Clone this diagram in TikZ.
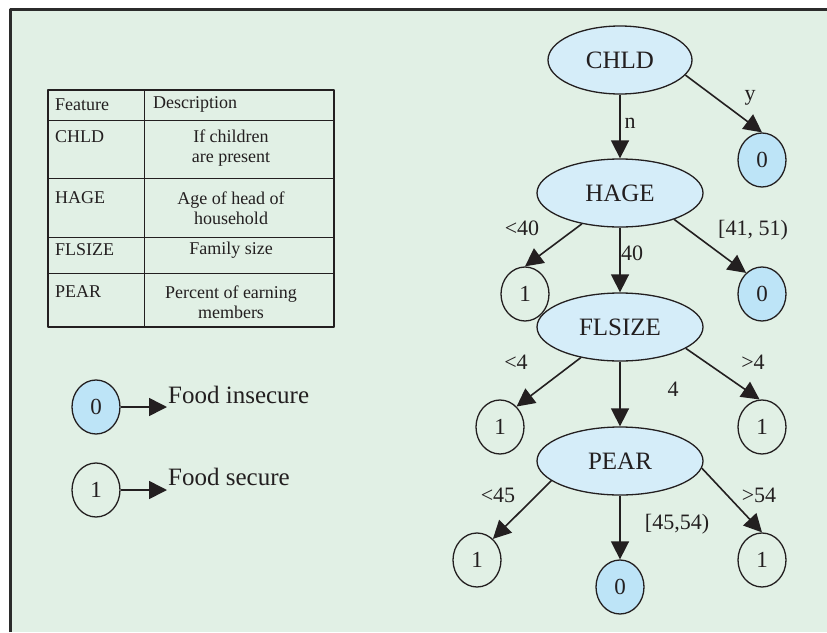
\documentclass[tikz,border=0pt]{standalone}
\usepackage{fontspec}
\setmainfont{Liberation Serif}
\usetikzlibrary{arrows.meta,positioning,shapes.geometric}
\definecolor{treeBg}{HTML}{E1F0E5}
\definecolor{treeFrame}{HTML}{2B2B2B}
\definecolor{treeInk}{HTML}{231F20}
\definecolor{treeSplit}{HTML}{D5EDF9}
\definecolor{treeZero}{HTML}{BDE4F7}

\begin{document}
\begin{tikzpicture}[x=1pt,y=-1pt,>={Triangle[length=18pt,width=18pt]},line join=round]
\useasboundingbox (0,0) rectangle (827,632);
\path[fill=white] (0,0) rectangle (827,632);
\path[fill=treeBg] (10,9) rectangle (827,632);
\draw[treeFrame,line width=3pt] (10.5,632) -- (10.5,9.5) -- (827,9.5);
\tikzset{split/.style={ellipse,draw=treeInk,fill=treeSplit,line width=1.3pt,minimum width=166pt,minimum height=68pt,inner sep=0pt,text=treeInk,font=\fontsize{25}{30}\selectfont},leaf/.style={ellipse,draw=treeInk,line width=1.3pt,minimum width=48pt,minimum height=54pt,inner sep=0pt,text=treeInk,font=\fontsize{23}{28}\selectfont},zero/.style={leaf,fill=treeZero},one/.style={leaf},branch/.style={draw=treeInk,line width=1.6pt,->},cond/.style={text=treeInk,inner sep=0pt,font=\fontsize{22}{26}\selectfont},cell/.style={text=treeInk,inner sep=0pt,font=\fontsize{18}{20}\selectfont},keytext/.style={text=treeInk,inner sep=0pt,anchor=west,font=\fontsize{25}{30}\selectfont}}
% feature table
\draw[treeInk,line width=1.2pt] (48,90) rectangle (334,327);
\draw[treeInk,line width=0.9pt] (144,90) -- (144,327);
\foreach \ry in {120,178,237,273} \draw[treeInk,line width=0.9pt] (48,\ry) -- (334,\ry);
\node[cell,anchor=west] (hdFeature) at (55,105) {Feature};
\node[cell,anchor=west] (hdDescr) at (153,104) {Description};
\node[cell,anchor=west] (ftChld) at (55,137) {CHLD};
\node[cell,anchor=west] (ftHage) at (55,198) {HAGE};
\node[cell,anchor=west] (ftFlsize) at (55,250) {FLSIZE};
\node[cell,anchor=west] (ftPear) at (55,292) {PEAR};
\node[cell,align=center] (dsChld) at (231,148) {If children\\are present};
\node[cell,align=center] (dsHage) at (231,208) {Age of head of\\household};
\node[cell,align=center] (dsFlsize) at (231,250) {Family size};
\node[cell,align=center] (dsPear) at (231,302) {Percent of earning\\members};
% legend
\node[zero] (keyZero) at (96,407) {0};
\coordinate (keyZeroEnd) at (167,407);
\draw[branch] (keyZero.east) -- (keyZeroEnd);
\node[keytext] (keyInsecure) at (168,395) {Food insecure};
\node[one] (keyOne) at (96,490) {1};
\coordinate (keyOneEnd) at (167,490);
\draw[branch] (keyOne.east) -- (keyOneEnd);
\node[keytext] (keySecure) at (168,477) {Food secure};
% tree
\node[split,minimum width=144pt] (chld) at (620,60) {CHLD};
\node[split] (hage) at (620,193) {HAGE};
\node[split] (flsize) at (620,327) {FLSIZE};
\node[split] (pear) at (620,461) {PEAR};
\node[zero] (chldYes) at (762,160) {0};
\node[one] (hageLow) at (525,294) {1};
\node[zero] (hageMid) at (762,294) {0};
\node[one] (flsizeLow) at (500,427) {1};
\node[one] (flsizeHigh) at (762,427) {1};
\node[one] (pearLow) at (477,560) {1};
\node[zero] (pearMid) at (620,587) {0};
\node[one] (pearHigh) at (762,560) {1};
\draw[branch] (chld) -- (hage);
\draw[branch] (chld.-13) -- (chldYes.north);
\draw[branch] (hage.-141) -- (hageLow.north);
\draw[branch] (hage) -- (flsize);
\draw[branch] (hage.-26) -- (hageMid.127);
\draw[branch] (flsize.-142) -- (flsizeLow.51);
\draw[branch] (flsize) -- (pear);
\draw[branch] (flsize.-18) -- (flsizeHigh.95);
\draw[branch] (pear.-164) -- (pearLow.53);
\draw[branch] (pear) -- (pearMid);
\draw[branch] (pear.-5) -- (pearHigh.north);
\node[cond] (lblNo) at (630,123) {n};
\node[cond] (lblYes) at (750,98) {y};
\node[cond] (lblLt40) at (522,228) {\textless40};
\node[cond] (lblEq40) at (632,253) {40};
\node[cond] (lblMid41) at (753,230) {[41, 51)};
\node[cond] (lblLt4) at (516,362) {\textless4};
\node[cond] (lblEq4) at (673,389) {4};
\node[cond] (lblGt4) at (753,362) {\textgreater4};
\node[cond] (lblLt45) at (498,495) {\textless45};
\node[cond] (lblMid45) at (677,524) {[45,54)};
\node[cond] (lblGt54) at (759,495) {\textgreater54};
\end{tikzpicture}
\end{document}
